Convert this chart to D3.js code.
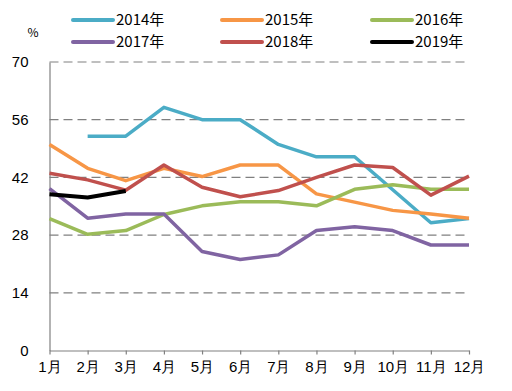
<!DOCTYPE html>
<html>
<head>
<meta charset="UTF-8">
<title>月度走势</title>
<style>
  body { margin: 0; background: #ffffff; font-family: 'Noto Sans CJK SC', 'DejaVu Sans', sans-serif; }
  .axis text { font-size: 15px; fill: #000; }
  .legend text { font-size: 15px; fill: #000; }
</style>
</head>
<body>
<script src="https://d3js.org/d3.v7.min.js"></script>
<script>
// data
const months = ['1月','2月','3月','4月','5月','6月','7月','8月','9月','10月','11月','12月'];
const yTicks = [0, 14, 28, 42, 56, 70];
const seriesNames = ['2014年','2015年','2016年','2017年','2018年','2019年'];
const colors = ['#4bacc6','#f79646','#9bbb59','#8064a2','#c0504d','#000000'];

const v2014 = [null, 52, 52, 59, 56, 56, 50, 47, 47, 39, 31, 32];
const v2015 = [50, 44.2, 41.2, 44.2, 42.2, 45, 45, 38, 36, 34, 33.1, 32.1];
const v2016 = [32, 28.2, 29.1, 33, 35.1, 36.1, 36.1, 35.1, 39.1, 40.2, 39.1, 39.1];
const v2017 = [39.3, 32.1, 33.1, 33.1, 24, 22.1, 23.2, 29.1, 30, 29.1, 25.6, 25.6];
const v2018 = [43, 41.4, 38.9, 45, 39.6, 37.3, 38.8, 42, 45, 44.4, 37.7, 42.3];
const v2019 = [37.9, 37.1, 38.7];

const allSeries = [v2014, v2015, v2016, v2017, v2018, v2019];

const W = 512, H = 391;
const svg = d3.select('body').append('svg').attr('width', W).attr('height', H);

const x = d3.scalePoint().domain(months).range([49.5, 469]);
const y = d3.scaleLinear().domain([0, 70]).range([350.5, 62]);

// dashed grid
svg.append('g')
   .selectAll('line')
   .data(yTicks.filter(d => d > 0))
   .enter()
   .append('line')
   .attr('x1', x.range()[0])
   .attr('x2', x.range()[1])
   .attr('y1', d => y(d))
   .attr('y2', d => y(d))
   .attr('stroke', '#808080')
   .attr('stroke-width', 1.2)
   .attr('stroke-dasharray', '9,5');

// y axis
const yAxis = svg.append('g')
   .attr('class', 'axis')
   .attr('transform', `translate(${x.range()[0]},0)`)
   .call(d3.axisLeft(y).tickValues(yTicks).tickSize(0).tickPadding(21));
yAxis.select('.domain').attr('stroke', '#808080').attr('stroke-width', 1.2);

// x axis
const xAxis = svg.append('g')
   .attr('class', 'axis')
   .attr('transform', `translate(0,${y(0)})`)
   .call(d3.axisBottom(x).tickSize(4).tickPadding(7).tickSizeOuter(0));
xAxis.select('.domain').attr('stroke', '#808080').attr('stroke-width', 1.2);
xAxis.selectAll('.tick line').attr('stroke', '#808080').attr('stroke-width', 1.2);

// % unit
svg.append('text')
   .attr('x', 33)
   .attr('y', 37)
   .attr('text-anchor', 'middle')
   .style('font-size', '12px')
   .text('%');

// lines
const line = d3.line()
   .defined(d => d != null)
   .x((d, i) => x(months[i]))
   .y(d => y(d));

svg.append('g')
   .selectAll('path')
   .data(allSeries)
   .enter()
   .append('path')
   .attr('fill', 'none')
   .attr('stroke', (d, i) => colors[i])
   .attr('stroke-width', (d, i) => i === 5 ? 4 : 3.5)
   .attr('stroke-linejoin', 'round')
   .attr('d', line);

// legend
const legend = svg.append('g').attr('class', 'legend');
const legX = [73, 222, 372];
const legY = [20, 42];
seriesNames.forEach((name, i) => {
    const lx = legX[i % 3], ly = legY[Math.floor(i / 3)];
    legend.append('line')
          .attr('x1', lx).attr('x2', lx + 40)
          .attr('y1', ly).attr('y2', ly)
          .attr('stroke', colors[i])
          .attr('stroke-width', 4)
          .attr('stroke-linecap', 'round');
    legend.append('text')
          .attr('x', lx + 43)
          .attr('y', ly + 5)
          .text(name);
});
</script>
</body>
</html>
